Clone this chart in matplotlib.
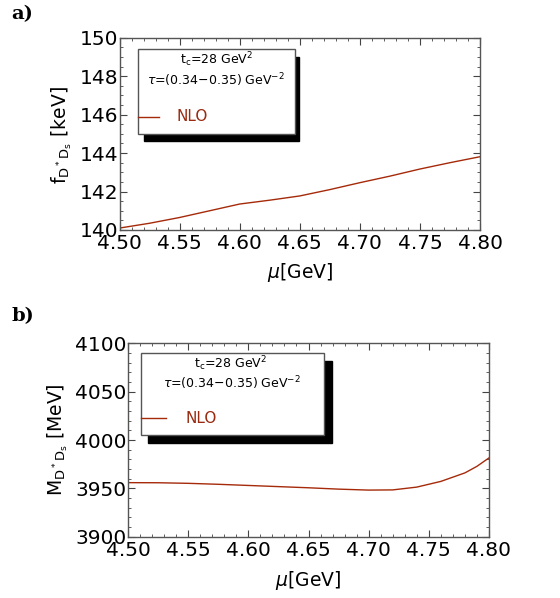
import numpy as np
import matplotlib
matplotlib.use("Agg")
import matplotlib.pyplot as plt
from matplotlib.patches import Rectangle
from matplotlib.ticker import MultipleLocator

# data
mu_a = [4.50, 4.525, 4.55, 4.575, 4.60, 4.625, 4.65, 4.675, 4.70, 4.725, 4.75, 4.775, 4.80]
f_nlo = [140.1, 140.35, 140.65, 141.0, 141.35, 141.55, 141.77, 142.1, 142.46, 142.8, 143.17, 143.5, 143.81]

mu_b = [4.50, 4.525, 4.55, 4.575, 4.60, 4.625, 4.65, 4.675, 4.70, 4.72, 4.74, 4.76, 4.78, 4.79, 4.80]
m_nlo = [3955.9, 3955.8, 3955.2, 3954.2, 3953.0, 3951.8, 3950.6, 3949.2, 3948.2, 3948.4,
         3951.3, 3957.2, 3966.0, 3972.8, 3981.5]

line_col = "#a52a0a"
txt_col = "#9a2a10"

fig = plt.figure(figsize=(5.6, 5.98), dpi=100)


def style_axis(ax, ymaj, ymin):
    ax.set_xlim(4.5, 4.8)
    ax.xaxis.set_major_locator(MultipleLocator(0.05))
    ax.xaxis.set_minor_locator(MultipleLocator(0.01))
    ax.yaxis.set_major_locator(MultipleLocator(ymaj))
    ax.yaxis.set_minor_locator(MultipleLocator(ymin))
    ax.tick_params(which="both", direction="in", top=True, right=True, colors="#444444",
                   labelcolor="black", labelsize=14.5)
    ax.tick_params(which="major", length=5, width=0.8)
    ax.tick_params(which="minor", length=2.5, width=0.6)
    ax.tick_params(axis="y", pad=1)
    ax.tick_params(axis="x", pad=3)
    ax.xaxis.set_major_formatter(matplotlib.ticker.FormatStrFormatter("%.2f"))
    for s in ax.spines.values():
        s.set_color("#555555")
        s.set_linewidth(1.0)


def legend_box(ax, box, shadow, t1, t2, ln, nlo_x):
    ax.add_patch(Rectangle((shadow[0], shadow[1]), shadow[2] - shadow[0], shadow[3] - shadow[1],
                           transform=ax.transAxes, facecolor="black", edgecolor="black", zorder=4))
    ax.add_patch(Rectangle((box[0], box[1]), box[2] - box[0], box[3] - box[1],
                           transform=ax.transAxes, facecolor="white", edgecolor="#555555",
                           linewidth=1.0, zorder=5))
    ax.text(t1[0], t1[1], r"t$_\mathregular{c}$=28 GeV$^\mathregular{2}$", transform=ax.transAxes,
            ha="center", va="center", fontsize=9, zorder=6)
    ax.text(t2[0], t2[1], r"$\tau$=(0.34$-$0.35) GeV$^\mathregular{-2}$", transform=ax.transAxes,
            ha="center", va="center", fontsize=9, zorder=6)
    ax.plot([ln[0], ln[1]], [ln[2], ln[2]], transform=ax.transAxes, color=line_col, lw=1.0, zorder=6)
    ax.text(nlo_x, ln[2], "NLO", transform=ax.transAxes, ha="left", va="center",
            fontsize=11, color=txt_col, zorder=6)


# panel a
ax1 = fig.add_axes([0.2134, 0.6154, 0.6438, 0.3216])
ax1.plot(mu_a, f_nlo, color=line_col, lw=1.0)
ax1.set_ylim(140, 150)
style_axis(ax1, 2, 0.5)
legend_box(ax1, (0.051, 0.499, 0.487, 0.941), (0.068, 0.465, 0.497, 0.90),
           (0.268, 0.884), (0.268, 0.78), (0.051, 0.11, 0.589), 0.157)
fig.text(62 / 560, 1 - 135 / 598, r"f$_{\mathregular{D^* D_s}}$ [keV]", rotation=90,
         ha="center", va="center", fontsize=13.5)
fig.text(300 / 560, 1 - 273 / 598, r"$\mu$[GeV]", ha="center", va="center", fontsize=13.5)
fig.text(11 / 560, 1 - 14 / 598, "a)", family="DejaVu Serif", weight="bold", fontsize=14,
         ha="left", va="center")

# panel b
ax2 = fig.add_axes([0.2286, 0.1025, 0.6446, 0.3234])
ax2.plot(mu_b, m_nlo, color=line_col, lw=1.0)
ax2.set_ylim(3900, 4100)
style_axis(ax2, 50, 10)
legend_box(ax2, (0.036, 0.526, 0.543, 0.95), (0.055, 0.484, 0.565, 0.908),
           (0.283, 0.897), (0.287, 0.793), (0.037, 0.105, 0.612), 0.158)
fig.text(58 / 560, 1 - 440 / 598, r"M$_{\mathregular{D^* D_s}}$ [MeV]", rotation=90,
         ha="center", va="center", fontsize=13.5)
fig.text(308 / 560, 1 - 580 / 598, r"$\mu$[GeV]", ha="center", va="center", fontsize=13.5)
fig.text(11 / 560, 1 - 316 / 598, "b)", family="DejaVu Serif", weight="bold", fontsize=14,
         ha="left", va="center")

fig.savefig("out.png", dpi=100)
